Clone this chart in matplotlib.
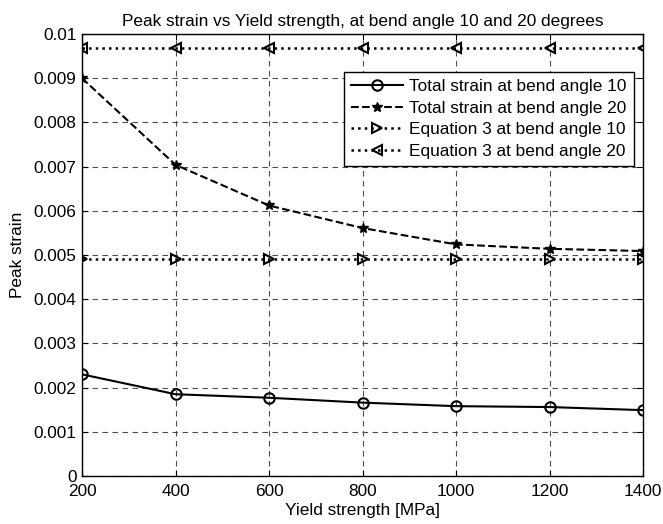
import matplotlib
matplotlib.use("Agg")
import matplotlib.pyplot as plt

plt.rcParams['font.family'] = ['Liberation Sans', 'DejaVu Sans']

yield_strength = [200, 400, 600, 800, 1000, 1200, 1400]
total_10 = [0.0023, 0.00185, 0.00177, 0.00166, 0.00158, 0.00156, 0.00149]
total_20 = [0.0090, 0.00704, 0.00612, 0.00561, 0.00524, 0.00514, 0.00509]
eq3_10 = [0.0049, 0.0049, 0.0049, 0.0049, 0.0049, 0.0049, 0.0049]
eq3_20 = [0.00968, 0.00968, 0.00968, 0.00968, 0.00968, 0.00968, 0.00968]

labels = ["Total strain at bend angle 10", "Total strain at bend angle 20",
          "Equation 3 at bend angle 10", "Equation 3 at bend angle 20"]
yticks = [0, 0.001, 0.002, 0.003, 0.004, 0.005, 0.006, 0.007, 0.008, 0.009, 0.01]
ytick_labels = ["0", "0.001", "0.002", "0.003", "0.004", "0.005", "0.006",
                "0.007", "0.008", "0.009", "0.01"]

FS = 12.4

fig = plt.figure(figsize=(6.63, 5.24), dpi=100)
ax = fig.add_axes([82 / 663, 1 - 476 / 524, 561 / 663, 442 / 524])

ax.plot(yield_strength, total_10, '-', color='k', lw=1.5, marker='o', ms=7.5,
        mfc='none', mec='k', mew=1.5, label=labels[0], zorder=3)
ax.plot(yield_strength, total_20, '--', color='k', lw=1.5, marker='*', ms=7.5,
        mfc='k', mec='k', mew=1.0, label=labels[1], zorder=3)
ax.plot(yield_strength, eq3_10, ':', color='k', lw=1.8, marker='>', ms=7.5,
        mfc='none', mec='k', mew=1.5, label=labels[2], zorder=3)
ax.plot(yield_strength, eq3_20, ':', color='k', lw=1.8, marker='<', ms=7.5,
        mfc='none', mec='k', mew=1.5, label=labels[3], zorder=3)

ax.set_xlim(200, 1400)
ax.set_ylim(0, 0.01)
ax.set_xticks(yield_strength)
ax.set_xticklabels([str(v) for v in yield_strength])
ax.set_yticks(yticks)
ax.set_yticklabels(ytick_labels)

ax.grid(True, linestyle=(0, (5, 4)), color='0.3', lw=0.8, zorder=0)
ax.tick_params(direction='in', top=True, right=True, length=4, labelsize=FS,
               width=0.8, color='k')
ax.tick_params(axis='x', pad=6)
ax.tick_params(axis='y', pad=4)
for s in ax.spines.values():
    s.set_linewidth(1.0)
    s.set_color('k')

ax.set_title("Peak strain vs Yield strength, at bend angle 10 and 20 degrees",
             fontsize=FS, pad=6)
ax.set_xlabel("Yield strength [MPa]", fontsize=FS, labelpad=3)
ax.set_ylabel("Peak strain", fontsize=FS, labelpad=6)

leg = ax.legend(loc='upper left', bbox_to_anchor=((344 - 82) / 561, (476 - 72) / 442),
                fontsize=FS, frameon=True, fancybox=False, framealpha=1,
                edgecolor='k', borderpad=0.4, labelspacing=0.38,
                handlelength=3.0, handletextpad=0.4, borderaxespad=0)
leg.get_frame().set_linewidth(1.0)

fig.savefig("out.png", dpi=100)
